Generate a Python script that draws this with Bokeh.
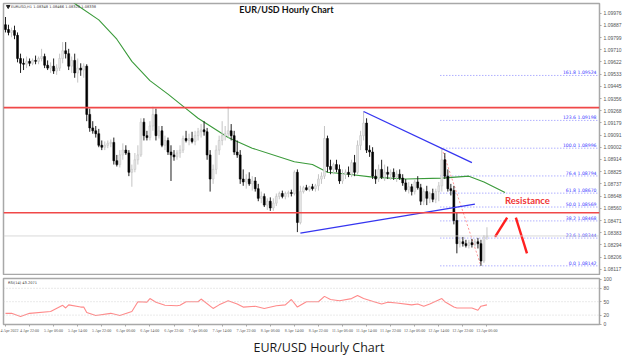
import numpy as np
from bokeh.plotting import figure
from bokeh.models import ColumnDataSource, FixedTicker, Label, Title, Span, Range1d, NumeralTickFormatter
from bokeh.layouts import column
from bokeh.embed import file_html
from bokeh.resources import INLINE
from bokeh.core.properties import value

# ---------------- data (hourly bars, EUR/USD) ----------------
opens = [
    1.09892, 1.09857, 1.09836, 1.09850, 1.09815, 1.09647, 1.09612, 1.09605, 1.09626, 1.09612,
    1.09633, 1.09626, 1.09647, 1.09661, 1.09598, 1.09577, 1.09591, 1.09556, 1.09577, 1.09647,
    1.09703, 1.09682, 1.09591, 1.09633, 1.09542, 1.09577, 1.09563, 1.09591, 1.09241, 1.09143,
    1.09122, 1.09101, 1.09017, 1.09003, 1.09017, 1.09031, 1.09038, 1.08905, 1.08877, 1.08947,
    1.08982, 1.08961, 1.08821, 1.08842, 1.08912, 1.08947, 1.09185, 1.09087, 1.09073, 1.09157,
    1.09241, 1.09087, 1.09122, 1.09017, 1.09052, 1.08968, 1.08947, 1.08933, 1.08961, 1.08982,
    1.09066, 1.09052, 1.09066, 1.09045, 1.09087, 1.09115, 1.09129, 1.09115, 1.08947, 1.08772,
    1.08842, 1.08982, 1.09052, 1.09087, 1.09101, 1.09122, 1.09087, 1.08968, 1.08947, 1.08772,
    1.08751, 1.08772, 1.08737, 1.08758, 1.08702, 1.08632, 1.08646, 1.08583, 1.08611, 1.08562,
    1.08597, 1.08646, 1.08667, 1.08646, 1.08667, 1.08674, 1.08667, 1.08821, 1.08457, 1.08681,
    1.08709, 1.08695, 1.08716, 1.08702, 1.08723, 1.08772, 1.08793, 1.09066, 1.08863, 1.08842,
    1.08877, 1.08842, 1.08758, 1.08807, 1.08821, 1.08807, 1.08891, 1.08821, 1.09017, 1.09087,
    1.09178, 1.08982, 1.08968, 1.08793, 1.08772, 1.08842, 1.08786, 1.08821, 1.08807, 1.08821,
    1.08786, 1.08807, 1.08779, 1.08744, 1.08695, 1.08716, 1.08681, 1.08751, 1.08709, 1.08611,
    1.08681, 1.08632, 1.08667, 1.08625, 1.08681, 1.08723, 1.08912, 1.08793, 1.08702, 1.08688,
    1.08471, 1.08303, 1.08317, 1.08303, 1.08289, 1.08310, 1.08296, 1.08317, 1.08303, 1.08177,
    1.08352,
]
highs = [
    1.09948, 1.09892, 1.09871, 1.09885, 1.09836, 1.09682, 1.09647, 1.09661, 1.09647, 1.09647,
    1.09668, 1.09661, 1.09717, 1.09682, 1.09633, 1.09619, 1.09647, 1.09605, 1.09682, 1.09766,
    1.09766, 1.09717, 1.09661, 1.09682, 1.09647, 1.09612, 1.09612, 1.09605, 1.09283, 1.09192,
    1.09157, 1.09136, 1.09052, 1.09045, 1.09052, 1.09059, 1.09073, 1.08947, 1.08982, 1.09031,
    1.09017, 1.08982, 1.08877, 1.08961, 1.09017, 1.09213, 1.09213, 1.09122, 1.09192, 1.09297,
    1.09283, 1.09157, 1.09157, 1.09087, 1.09073, 1.09017, 1.08982, 1.08982, 1.09017, 1.09087,
    1.09122, 1.09101, 1.09115, 1.09122, 1.09143, 1.09171, 1.09192, 1.09143, 1.08982, 1.08877,
    1.09017, 1.09087, 1.09192, 1.09157, 1.09297, 1.09171, 1.09122, 1.09052, 1.08982, 1.08842,
    1.08807, 1.08821, 1.08793, 1.08786, 1.08737, 1.08681, 1.08667, 1.08632, 1.08639, 1.08632,
    1.08667, 1.08681, 1.08688, 1.08681, 1.08688, 1.08695, 1.08835, 1.08842, 1.08723, 1.08723,
    1.08730, 1.08723, 1.08737, 1.08737, 1.08807, 1.08821, 1.09157, 1.09087, 1.08912, 1.08891,
    1.08912, 1.08877, 1.08842, 1.08842, 1.08863, 1.08912, 1.08947, 1.09052, 1.09122, 1.09262,
    1.09213, 1.09017, 1.09003, 1.08842, 1.08877, 1.08912, 1.08877, 1.08863, 1.08842, 1.08849,
    1.08835, 1.08842, 1.08807, 1.08772, 1.08751, 1.08737, 1.08772, 1.08793, 1.08737, 1.08702,
    1.08723, 1.08681, 1.08702, 1.08702, 1.08751, 1.08996, 1.08961, 1.08842, 1.08737, 1.08723,
    1.08527, 1.08352, 1.08352, 1.08331, 1.08331, 1.08338, 1.08338, 1.08345, 1.08331, 1.08366,
    1.08422,
]
lows = [
    1.09836, 1.09815, 1.09801, 1.09787, 1.09619, 1.09542, 1.09563, 1.09577, 1.09591, 1.09598,
    1.09605, 1.09605, 1.09626, 1.09577, 1.09563, 1.09542, 1.09535, 1.09528, 1.09556, 1.09612,
    1.09647, 1.09563, 1.09542, 1.09507, 1.09472, 1.09521, 1.09507, 1.09192, 1.09115, 1.09101,
    1.09073, 1.09003, 1.08982, 1.08982, 1.08996, 1.09003, 1.08877, 1.08863, 1.08856, 1.08912,
    1.08947, 1.08793, 1.08716, 1.08821, 1.08877, 1.08933, 1.09052, 1.09052, 1.09052, 1.09122,
    1.09052, 1.09066, 1.09003, 1.08982, 1.08947, 1.08758, 1.08905, 1.08912, 1.08926, 1.08961,
    1.09038, 1.09017, 1.09031, 1.09017, 1.09052, 1.09073, 1.09087, 1.08912, 1.08681, 1.08737,
    1.08807, 1.08947, 1.09017, 1.09052, 1.09073, 1.09052, 1.08947, 1.08926, 1.08737, 1.08723,
    1.08702, 1.08723, 1.08688, 1.08681, 1.08611, 1.08597, 1.08569, 1.08548, 1.08541, 1.08541,
    1.08576, 1.08625, 1.08632, 1.08625, 1.08639, 1.08646, 1.08653, 1.08387, 1.08443, 1.08667,
    1.08688, 1.08681, 1.08688, 1.08681, 1.08688, 1.08737, 1.08772, 1.08821, 1.08807, 1.08807,
    1.08821, 1.08737, 1.08737, 1.08772, 1.08786, 1.08786, 1.08793, 1.08807, 1.08982, 1.09052,
    1.08961, 1.08933, 1.08772, 1.08737, 1.08751, 1.08772, 1.08758, 1.08772, 1.08765, 1.08765,
    1.08751, 1.08765, 1.08723, 1.08681, 1.08667, 1.08653, 1.08660, 1.08695, 1.08583, 1.08583,
    1.08583, 1.08597, 1.08604, 1.08597, 1.08611, 1.08681, 1.08772, 1.08681, 1.08653, 1.08443,
    1.08233, 1.08275, 1.08282, 1.08275, 1.08268, 1.08275, 1.08282, 1.08268, 1.08142, 1.08163,
    1.08331,
]
closes = [
    1.09857, 1.09836, 1.09850, 1.09815, 1.09647, 1.09612, 1.09605, 1.09626, 1.09612, 1.09633,
    1.09626, 1.09647, 1.09661, 1.09598, 1.09577, 1.09591, 1.09556, 1.09577, 1.09647, 1.09703,
    1.09682, 1.09591, 1.09633, 1.09542, 1.09577, 1.09563, 1.09591, 1.09241, 1.09143, 1.09122,
    1.09101, 1.09017, 1.09003, 1.09017, 1.09031, 1.09038, 1.08905, 1.08877, 1.08947, 1.08982,
    1.08961, 1.08821, 1.08842, 1.08912, 1.08947, 1.09185, 1.09087, 1.09073, 1.09157, 1.09241,
    1.09087, 1.09122, 1.09017, 1.09052, 1.08968, 1.08947, 1.08933, 1.08961, 1.08982, 1.09066,
    1.09052, 1.09066, 1.09045, 1.09087, 1.09115, 1.09129, 1.09115, 1.08947, 1.08772, 1.08842,
    1.08982, 1.09052, 1.09087, 1.09101, 1.09122, 1.09087, 1.08968, 1.08947, 1.08772, 1.08751,
    1.08772, 1.08737, 1.08758, 1.08702, 1.08632, 1.08646, 1.08583, 1.08611, 1.08562, 1.08597,
    1.08646, 1.08667, 1.08646, 1.08667, 1.08674, 1.08667, 1.08821, 1.08457, 1.08681, 1.08709,
    1.08695, 1.08716, 1.08702, 1.08723, 1.08772, 1.08793, 1.09066, 1.08863, 1.08842, 1.08877,
    1.08842, 1.08758, 1.08807, 1.08821, 1.08807, 1.08891, 1.08821, 1.09017, 1.09087, 1.09178,
    1.08982, 1.08968, 1.08793, 1.08772, 1.08842, 1.08786, 1.08821, 1.08807, 1.08821, 1.08786,
    1.08807, 1.08779, 1.08744, 1.08695, 1.08716, 1.08681, 1.08751, 1.08709, 1.08611, 1.08681,
    1.08632, 1.08667, 1.08625, 1.08681, 1.08723, 1.08912, 1.08793, 1.08702, 1.08688, 1.08471,
    1.08303, 1.08317, 1.08303, 1.08289, 1.08310, 1.08296, 1.08317, 1.08303, 1.08177, 1.08352,
    1.08359,
]

# moving average (shifted, green)
ma_idx = [20, 23, 31, 37, 42, 48, 54, 60, 64, 74, 82, 96, 102, 107, 114, 122, 133, 145, 154, 159, 166]
ma_val = [1.10110, 1.10046, 1.09927, 1.09787, 1.09626, 1.09486, 1.09388, 1.09283, 1.09213, 1.09073,
          1.08996, 1.08898, 1.08877, 1.08821, 1.08807, 1.08786, 1.08772, 1.08779, 1.08793, 1.08751, 1.08674]

# RSI(14)
rsi_idx = [0, 2, 5, 8, 15, 19, 20, 21, 25, 26, 27, 30, 35, 38, 41, 42, 44, 47, 48, 50, 53, 57, 58, 60,
           64, 65, 69, 71, 74, 77, 79, 83, 86, 90, 93, 95, 97, 100, 104, 106, 108, 111, 115, 117, 119,
           123, 125, 127, 130, 135, 137, 139, 141, 145, 146, 149, 150, 155, 157, 158, 160]
rsi_val = [24, 24, 17, 24, 28, 42, 36, 43, 38, 38, 26, 19, 24, 19, 26, 28, 50, 49, 57, 49, 42, 41, 42, 50,
           50, 56, 35, 43, 52, 45, 38, 40, 35, 41, 43, 55, 38, 50, 50, 62, 55, 52, 57, 64, 57,
           49, 45, 49, 47, 43, 45, 40, 45, 57, 50, 38, 36, 36, 31, 40, 43]

# annotations
upper_resistance = 1.09290
lower_resistance = 1.08527
trend_hi_x = [119, 155]
trend_hi_y = [1.09262, 1.08891]
trend_lo_x = [98, 156]
trend_lo_y = [1.08380, 1.08590]
fib_high_idx, fib_high = 145, 1.08996
fib_low_idx, fib_low = 158, 1.08142
fib_ratios = [0.0, 23.6, 38.2, 50.0, 61.8, 76.4, 100.0, 123.6, 161.8]
arrow1_x = [162.7, 166.7]
arrow1_y = [1.08352, 1.08492]
arrow2_x = [169.6, 173.3]
arrow2_y = [1.08492, 1.08233]

price_ticks = [1.09976, 1.09887, 1.09799, 1.09710, 1.09622, 1.09533, 1.09445, 1.09356, 1.09268, 1.09179,
               1.09091, 1.09002, 1.08914, 1.08825, 1.08737, 1.08648, 1.08560, 1.08471, 1.08383, 1.08294,
               1.08206, 1.08117]
time_idx = [0, 8, 16, 24, 32, 40, 48, 56, 64, 72, 80, 88, 96, 104, 112, 120, 128, 136, 144, 152, 160]
time_lbl = ["4 Apr 2022", "4 Apr 22:00", "5 Apr 06:00", "5 Apr 14:00", "5 Apr 22:00", "6 Apr 06:00",
            "6 Apr 14:00", "6 Apr 22:00", "7 Apr 06:00", "7 Apr 14:00", "7 Apr 22:00", "8 Apr 06:00",
            "8 Apr 14:00", "8 Apr 22:00", "11 Apr 06:00", "11 Apr 14:00", "11 Apr 22:00", "12 Apr 06:00",
            "12 Apr 14:00", "12 Apr 22:00", "13 Apr 06:00"]

# ---------------- figure ----------------
X0, X1 = -0.66, 197.4
Y0, Y1 = 1.08072, 1.10046
FW = 596
GREY = "#a8a8a8"

n = len(closes)
idx = list(range(n))
bull = [c >= o for o, c in zip(opens, closes)]


def subset(flag):
    ii = [i for i in idx if bull[i] == flag]
    return ColumnDataSource(dict(x=ii, o=[opens[i] for i in ii], h=[highs[i] for i in ii],
                                 l=[lows[i] for i in ii], c=[closes[i] for i in ii]))


up_src, dn_src = subset(True), subset(False)

p1 = figure(frame_width=FW, frame_height=272, x_range=Range1d(X0, X1), y_range=Range1d(Y0, Y1),
            x_axis_location=None, y_axis_location="right", output_backend="svg",
            toolbar_location=None, min_border_left=3, min_border_right=0,
            min_border_top=3, min_border_bottom=0)
p1.grid.visible = False
p1.outline_line_color = GREY
p1.outline_line_width = 1.5
ya = p1.yaxis[0]
ya.ticker = FixedTicker(ticks=price_ticks)
ya.formatter = NumeralTickFormatter(format="0.00000")
ya.major_label_text_font_size = "5px"
ya.major_label_text_color = "#555555"
ya.axis_line_color = GREY
ya.major_tick_line_color = GREY
ya.major_tick_out = 2
ya.major_tick_in = 0
ya.minor_tick_line_color = None
ya.major_label_standoff = 2

# current price line
p1.add_layout(Span(location=closes[-1], dimension="width", line_color="#cfcfcf", line_width=0.8))

# fib levels
fib_rng = fib_high - fib_low
fib_prices = [fib_low + r / 100.0 * fib_rng for r in fib_ratios]
for r, fp in zip(fib_ratios, fib_prices):
    p1.line([fib_high_idx - 0.5, X1], [fp, fp], line_color="#7070ff", line_width=0.8, line_dash="1 2")
p1.text(x=[X1 - 1.0] * len(fib_ratios), y=fib_prices,
        text=["%.1f %.5f" % (r, fp) for r, fp in zip(fib_ratios, fib_prices)],
        text_align="right", text_baseline="bottom", text_font_size="4.6px",
        text_color="#4040ff", text_font=value("DejaVu Sans"))
p1.line([fib_high_idx, fib_low_idx], [fib_high, fib_low], line_color="#ff8a8a", line_width=0.9, line_dash="2 2")

# red resistance lines
for lvl in (upper_resistance, lower_resistance):
    p1.add_layout(Span(location=lvl, dimension="width", line_color="#f04848", line_width=1.6))

# MA
p1.line(ma_idx, ma_val, line_color="#3a9a3a", line_width=1.1)

# candles
p1.segment(x0="x", y0="h", x1="x", y1="l", source=up_src, line_color="#c4c4c4", line_width=1)
p1.segment(x0="x", y0="h", x1="x", y1="l", source=dn_src, line_color="#202020", line_width=1)
p1.vbar(x="x", width=0.62, top="c", bottom="o", source=up_src, fill_color="#e8e8e8", line_color="#c4c4c4", line_width=0.6)
p1.vbar(x="x", width=0.62, top="o", bottom="c", source=dn_src, fill_color="#000000", line_color="#000000", line_width=0.6)

# trend lines
p1.line(trend_hi_x, trend_hi_y, line_color="#3535f0", line_width=1.3)
p1.line(trend_lo_x, trend_lo_y, line_color="#3535f0", line_width=1.3)

# scenario strokes
p1.line(arrow1_x, arrow1_y, line_color="#ff2020", line_width=2.4)
p1.line(arrow2_x, arrow2_y, line_color="#ff2020", line_width=2.4)

p1.add_layout(Label(x=166, y=1.08618, text="Resistance", text_color="#f03535",
                    text_font="Lato", text_font_style="bold", text_font_size="9.5px",
                    text_baseline="middle", text_align="left"))
p1.add_layout(Label(x=93.4, y=1.10005, text="EUR/USD Hourly Chart", text_color="#111111",
                    text_font="Lato", text_font_style="bold", text_font_size="9px",
                    text_baseline="middle", text_align="center"))
p1.scatter([0.9], [1.10024], marker="inverted_triangle", size=3.5, color="#222222")
p1.add_layout(Label(x=1.8, y=1.10024, text="EURUSD,H1  1.08348 1.08466 1.08320 1.08338",
                    text_color="#333333", text_font="DejaVu Sans", text_font_size="3.6px",
                    text_baseline="middle", text_align="left"))

# ---------------- RSI ----------------
p2 = figure(frame_width=FW, frame_height=46, x_range=p1.x_range, y_range=Range1d(-1, 102),
            y_axis_location="right", output_backend="svg", toolbar_location=None,
            min_border_left=3, min_border_right=0, min_border_top=3, min_border_bottom=0)
p2.grid.visible = False
p2.outline_line_color = GREY
p2.outline_line_width = 1.5
for lvl in (20, 50, 80):
    p2.add_layout(Span(location=lvl, dimension="width", line_color="#c8c8c8", line_width=0.8, line_dash="1 2"))
p2.line(rsi_idx, rsi_val, line_color="#ff8a8a", line_width=1.1)
p2.add_layout(Label(x=0.8, y=93, text="RSI(14) 43.2071", text_color="#333333",
                    text_font="DejaVu Sans", text_font_size="3.6px", text_baseline="middle"))

ry = p2.yaxis[0]
ry.ticker = FixedTicker(ticks=[0, 20, 50, 80, 100])
ry.major_label_text_font_size = "5px"
ry.major_label_text_color = "#555555"
ry.axis_line_color = GREY
ry.major_tick_line_color = GREY
ry.major_tick_out = 2
ry.major_tick_in = 0
ry.minor_tick_line_color = None
ry.major_label_standoff = 2

rx = p2.xaxis[0]
rx.ticker = FixedTicker(ticks=time_idx)
rx.major_label_overrides = {i: s for i, s in zip(time_idx, time_lbl)}
rx.major_label_text_font = "Liberation Sans Narrow"
rx.major_label_text_font_size = "4px"
rx.major_label_text_color = "#555555"
rx.major_label_text_align = "left"
rx.axis_line_color = GREY
rx.major_tick_line_color = GREY
rx.major_tick_out = 2
rx.major_tick_in = 0
rx.minor_tick_line_color = None
rx.major_label_standoff = 1

cap = Title(text="EUR/USD Hourly Chart", align="left", offset=250, standoff=3,
            text_font="Open Sans", text_font_size="12.5px", text_font_style="normal",
            text_color="#1a1a1a")
p2.add_layout(cap, "below")

layout = column(p1, p2, spacing=0)
open("out.html", "w").write(file_html(layout, INLINE))
